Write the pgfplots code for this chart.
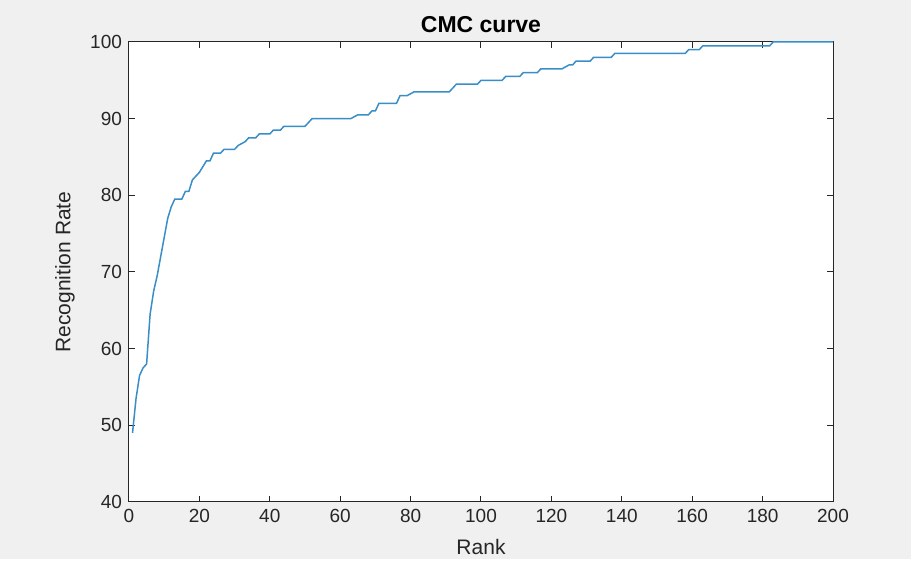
\documentclass[border=0pt]{standalone}
\usepackage{fontspec}
\setmainfont{Liberation Sans}
\usepackage{pgfplots}
\pgfplotsset{compat=1.18}
\definecolor{figGray}{HTML}{F0F0F0}
\definecolor{axGray}{HTML}{262626}
\definecolor{cmcBlue}{HTML}{3A8EC8}

\begin{document}
\begin{tikzpicture}
% figure background (911x559 px at 0.5pt per px)
\fill[figGray] (-64.5pt,-28.5pt) rectangle (391pt,251pt);
\begin{axis}[scale only axis,width=352pt,height=230pt,
    at={(0,0)},anchor=south west,
    xmin=0,xmax=200,ymin=40,ymax=100,
    xtick={0,20,...,200},ytick={40,50,...,100},
    tick align=inside,major tick length=3pt,
    axis line style={axGray,line width=0.5pt},
    tick style={axGray,line width=0.5pt},
    axis background/.style={fill=white},
    /pgf/number format/assume math mode=true,
    ticklabel style={font=\fontsize{9.5}{11}\selectfont,text=axGray},
    every axis title shift=0pt,
    title={\bfseries CMC curve},
    title style={font=\fontsize{11.5}{13}\selectfont,at={(axis description cs:0.5,1.037)},anchor=center},
    xlabel={Rank},ylabel={Recognition Rate},
    label style={font=\fontsize{10.5}{12}\selectfont,text=axGray},
    xlabel style={at={(axis description cs:0.5,-0.098)},anchor=center},
    ylabel style={at={(axis description cs:-0.091,0.5)},anchor=center},
    clip=false]
\addplot[cmcBlue,line width=0.75pt] coordinates {
(1,49)(2,53.5)(3,56.5)(4,57.5)(5,58)(6,64.5)(7,67.5)(8,69.5)(9,72)(10,74.5)
(11,77)(12,78.5)(13,79.5)(15,79.5)(16,80.5)(17,80.5)(18,82)(20,83)(22,84.5)(23,84.5)
(24,85.5)(26,85.5)(27,86)(30,86)(31,86.5)(33,87)(34,87.5)(36,87.5)(37,88)(40,88)
(41,88.5)(43,88.5)(44,89)(50,89)(52,90)(63,90)(65,90.5)(68,90.5)(69,91)(70,91)
(71,92)(76,92)(77,93)(79,93)(81,93.5)(91,93.5)(93,94.5)(99,94.5)(100,95)(106,95)
(107,95.5)(111,95.5)(112,96)(116,96)(117,96.5)(123,96.5)(125,97)(126,97)(127,97.5)(131,97.5)
(132,98)(137,98)(138,98.5)(158,98.5)(159,99)(162,99)(163,99.5)(182,99.5)(183,100)(200,100)
};
\end{axis}
\end{tikzpicture}
\end{document}
